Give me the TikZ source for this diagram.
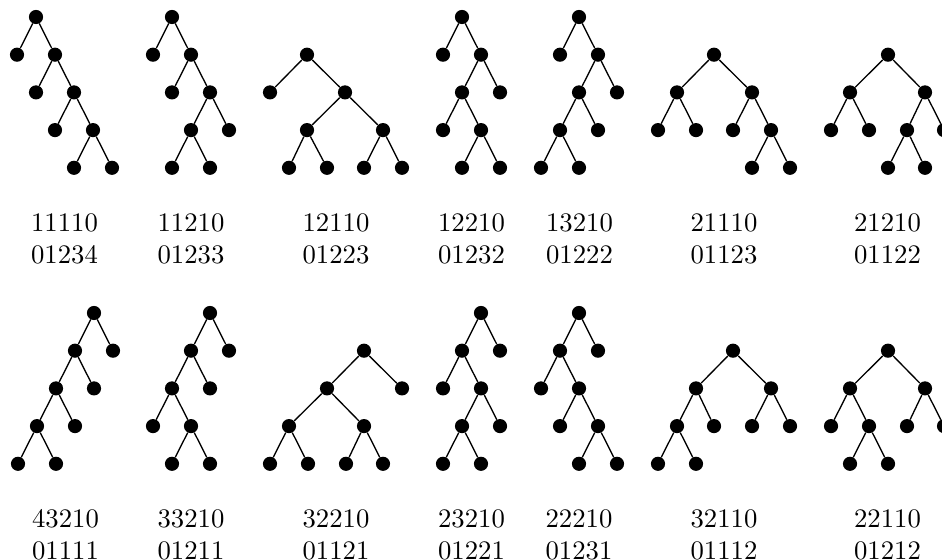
\documentclass[tikz,border=0pt]{standalone}
\usepackage{tikz}

\tikzset{
  dot/.style={circle, fill=black, inner sep=0pt, minimum size=5.3pt},
  edge/.style={line width=0.5pt},
  code/.style={align=center, inner sep=0pt, font=\fontsize{10}{12}\selectfont}
}

\begin{document}
\begin{tikzpicture}[x=0.3744pt, y=-0.3744pt, line cap=round, line join=round]

  %% ════ 上排（根在 y=17，层距 37.7）════
  % 11110
  \foreach \n/\x/\l in {a/36/0, b/17/1, c/55/1, d/36/2, e/74/2, f/55/3, g/93/3, h/74/4, i/112/4}
    \node[dot] (ta\n) at (\x,{17+37.7*\l}) {};
  \foreach \p/\c in {a/b, a/c, c/d, c/e, e/f, e/g, g/h, g/i}
    \draw[edge] (ta\p) -- (ta\c);
  % 11210
  \foreach \n/\x/\l in {a/172/0, b/153/1, c/191/1, d/172/2, e/210/2, f/191/3, g/229/3, h/172/4, i/210/4}
    \node[dot] (tb\n) at (\x,{17+37.7*\l}) {};
  \foreach \p/\c in {a/b, a/c, c/d, c/e, e/f, e/g, f/h, f/i}
    \draw[edge] (tb\p) -- (tb\c);
  % 12110
  \foreach \n/\x/\l in {a/307/1, b/270/2, c/345/2, d/307/3, e/383/3, f/289/4, g/327/4, h/364/4, i/402/4}
    \node[dot] (tc\n) at (\x,{17+37.7*\l}) {};
  \foreach \p/\c in {a/b, a/c, c/d, c/e, d/f, d/g, e/h, e/i}
    \draw[edge] (tc\p) -- (tc\c);
  % 12210
  \foreach \n/\x/\l in {a/462/0, b/443/1, c/481/1, d/462/2, e/500/2, f/443/3, g/481/3, h/462/4, i/500/4}
    \node[dot] (td\n) at (\x,{17+37.7*\l}) {};
  \foreach \p/\c in {a/b, a/c, c/d, c/e, d/f, d/g, g/h, g/i}
    \draw[edge] (td\p) -- (td\c);
  % 13210
  \foreach \n/\x/\l in {a/579/0, b/560/1, c/598/1, d/579/2, e/617/2, f/560/3, g/598/3, h/541/4, i/579/4}
    \node[dot] (te\n) at (\x,{17+37.7*\l}) {};
  \foreach \p/\c in {a/b, a/c, c/d, c/e, d/f, d/g, f/h, f/i}
    \draw[edge] (te\p) -- (te\c);
  % 21110
  \foreach \n/\x/\l in {a/714/1, b/677/2, c/752/2, d/658/3, e/696/3, f/733/3, g/771/3, h/752/4, i/790/4}
    \node[dot] (tf\n) at (\x,{17+37.7*\l}) {};
  \foreach \p/\c in {a/b, a/c, b/d, b/e, c/f, c/g, g/h, g/i}
    \draw[edge] (tf\p) -- (tf\c);
  % 21210
  \foreach \n/\x/\l in {a/888/1, b/850/2, c/925/2, d/831/3, e/869/3, f/907/3, g/944/3, h/888/4, i/925/4}
    \node[dot] (tg\n) at (\x,{17+37.7*\l}) {};
  \foreach \p/\c in {a/b, a/c, b/d, b/e, c/f, c/g, f/h, f/i}
    \draw[edge] (tg\p) -- (tg\c);

  %% ════ 下排（根在 y=313）════
  % 43210
  \foreach \n/\x/\l in {a/94/0, b/75/1, c/113/1, d/56/2, e/94/2, f/37/3, g/75/3, h/18/4, i/56/4}
    \node[dot] (ua\n) at (\x,{313+37.7*\l}) {};
  \foreach \p/\c in {a/b, a/c, b/d, b/e, d/f, d/g, f/h, f/i}
    \draw[edge] (ua\p) -- (ua\c);
  % 33210
  \foreach \n/\x/\l in {a/210/0, b/191/1, c/229/1, d/172/2, e/210/2, f/153/3, g/191/3, h/172/4, i/210/4}
    \node[dot] (ub\n) at (\x,{313+37.7*\l}) {};
  \foreach \p/\c in {a/b, a/c, b/d, b/e, d/f, d/g, g/h, g/i}
    \draw[edge] (ub\p) -- (ub\c);
  % 32210
  \foreach \n/\x/\l in {a/364/1, b/327/2, c/402/2, d/289/3, e/364/3, f/270/4, g/308/4, h/346/4, i/383/4}
    \node[dot] (uc\n) at (\x,{313+37.7*\l}) {};
  \foreach \p/\c in {a/b, a/c, b/d, b/e, d/f, d/g, e/h, e/i}
    \draw[edge] (uc\p) -- (uc\c);
  % 23210
  \foreach \n/\x/\l in {a/481/0, b/462/1, c/500/1, d/443/2, e/481/2, f/462/3, g/500/3, h/443/4, i/481/4}
    \node[dot] (ud\n) at (\x,{313+37.7*\l}) {};
  \foreach \p/\c in {a/b, a/c, b/d, b/e, e/f, e/g, f/h, f/i}
    \draw[edge] (ud\p) -- (ud\c);
  % 22210
  \foreach \n/\x/\l in {a/579/0, b/560/1, c/598/1, d/541/2, e/579/2, f/560/3, g/598/3, h/579/4, i/617/4}
    \node[dot] (ue\n) at (\x,{313+37.7*\l}) {};
  \foreach \p/\c in {a/b, a/c, b/d, b/e, e/f, e/g, g/h, g/i}
    \draw[edge] (ue\p) -- (ue\c);
  % 32110
  \foreach \n/\x/\l in {a/733/1, b/696/2, c/771/2, d/677/3, e/714/3, f/752/3, g/790/3, h/658/4, i/696/4}
    \node[dot] (uf\n) at (\x,{313+37.7*\l}) {};
  \foreach \p/\c in {a/b, a/c, b/d, b/e, c/f, c/g, d/h, d/i}
    \draw[edge] (uf\p) -- (uf\c);
  % 22110
  \foreach \n/\x/\l in {a/888/1, b/850/2, c/925/2, d/831/3, e/869/3, f/907/3, g/944/3, h/850/4, i/888/4}
    \node[dot] (ug\n) at (\x,{313+37.7*\l}) {};
  \foreach \p/\c in {a/b, a/c, b/d, b/e, c/f, c/g, e/h, e/i}
    \draw[edge] (ug\p) -- (ug\c);

  %% ════ 编码标签 ════
  \node[code] (la) at (64.5,238.5) {11110\\01234};
  \node[code] (lb) at (191,238.5)  {11210\\01233};
  \node[code] (lc) at (336,238.5)  {12110\\01223};
  \node[code] (ld) at (471.5,238.5) {12210\\01232};
  \node[code] (le) at (579.5,238.5) {13210\\01222};
  \node[code] (lf) at (724,238.5)  {21110\\01123};
  \node[code] (lg) at (887.5,238.5) {21210\\01122};

  \node[code] (ma) at (65.5,535)  {43210\\01111};
  \node[code] (mb) at (191,535)   {33210\\01211};
  \node[code] (mc) at (336,535)   {32210\\01121};
  \node[code] (md) at (471.5,535) {23210\\01221};
  \node[code] (me) at (579,535)   {22210\\01231};
  \node[code] (mf) at (724,535)   {32110\\01112};
  \node[code] (mg) at (887.5,535) {22110\\01212};

  % 钉死画布
  \pgfresetboundingbox
  \path[use as bounding box] (0,0) rectangle (942,560);
\end{tikzpicture}
\end{document}
